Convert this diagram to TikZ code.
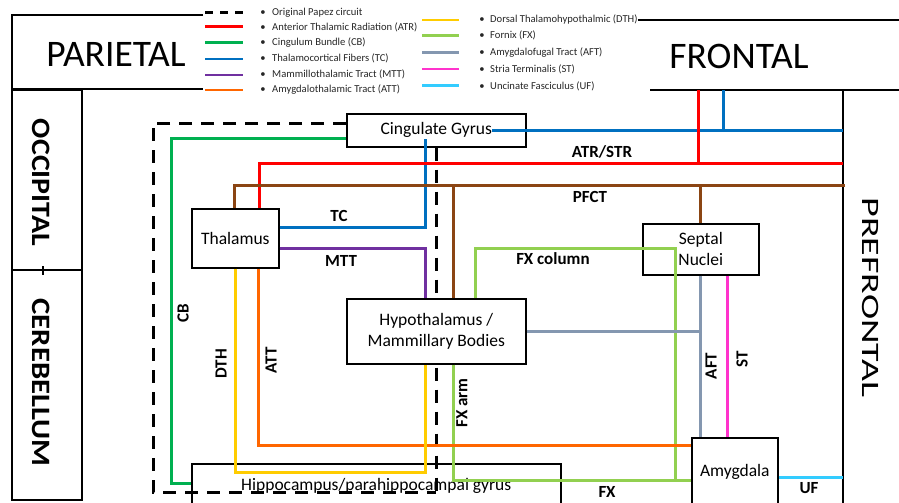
\documentclass[tikz,border=0pt]{standalone}
\usepackage{fontspec}
\setmainfont{Carlito}
\usepackage{graphicx}
\usetikzlibrary{backgrounds}
\definecolor{cATR}{HTML}{FF0000}
\definecolor{cCB}{HTML}{00B050}
\definecolor{cTC}{HTML}{0070C0}
\definecolor{cMTT}{HTML}{7030A0}
\definecolor{cATT}{HTML}{FF6600}
\definecolor{cDTH}{HTML}{FFCC00}
\definecolor{cFX}{HTML}{92D050}
\definecolor{cAFT}{HTML}{8497B0}
\definecolor{cST}{HTML}{FF33CC}
\definecolor{cUF}{HTML}{33CCFF}
\definecolor{cPF}{HTML}{8B4513}
\begin{document}
\begin{tikzpicture}[x=1pt,y=-1pt,
  box/.style={draw=black,line width=1.6pt,fill=white,inner sep=0pt,anchor=north west,align=center,font=\fontsize{17.5}{21}\selectfont},
  fib/.style={line width=3pt},
  lbl/.style={font=\bfseries\fontsize{17}{20}\selectfont,inner sep=0pt},
  legtxt/.style={font=\fontsize{10.6}{12}\selectfont,text=black!85,inner sep=0pt,anchor=west,text height=7.2pt,text depth=2.2pt},
  legbul/.style={font=\fontsize{10.6}{12}\selectfont,text=black!85,inner sep=0pt,text height=7.2pt,text depth=2.2pt},
  swatch/.style={line width=2.6pt},
  region/.style={line width=2pt},
  papez/.style={line width=3pt,dash pattern=on 13pt off 9pt},
]
\useasboundingbox (0,0) rectangle (899,503);

% ---------- boxes ----------
\node[box,minimum width=179pt,minimum height=33pt] (cing) at (346,113) {Cingulate Gyrus};
\node[box,minimum width=87pt,minimum height=59pt] (thal) at (191,208) {Thalamus};
\node[box,minimum width=179pt,minimum height=65pt] (hypo) at (346,298) {Hypothalamus /\\Mammillary Bodies};
\node[box,minimum width=116pt,minimum height=51pt] (sept) at (642,223) {Septal\\Nuclei};
\node[box,minimum width=86pt,minimum height=68pt] (amyg) at (691,437) {Amygdala};
\node[box,fill=none,minimum width=369pt,minimum height=44pt] (hipp) at (191,463) {Hippocampus/parahippocampal gyrus};

% ---------- Papez circuit ----------
\begin{pgfonlayer}{background}
\draw[papez] (cing.west |- 0,123) -- (153,123) -- (153,492) -- (436,492);
\draw[papez] (436,0 |- cing.south) -- (436,492);
\end{pgfonlayer}

% ---------- legend ----------
\draw[swatch,dash pattern=on 8pt off 7pt] (205,12.7) -- (243,12.7);
\draw[swatch,cATR] (205,26.7) -- (243,26.7);
\draw[swatch,cCB] (205,42.3) -- (243,42.3);
\draw[swatch,cTC] (205,59) -- (243,59);
\draw[swatch,cMTT] (205,75) -- (243,75);
\draw[swatch,cATT] (205,90) -- (243,90);
\draw[swatch,cDTH] (422,20) -- (459,20);
\draw[swatch,cFX] (422,35.7) -- (459,35.7);
\draw[swatch,cAFT] (422,52.3) -- (459,52.3);
\draw[swatch,cST] (422,69) -- (459,69);
\draw[swatch,cUF] (422,85.7) -- (459,85.7);
\foreach \yy/\nm in {12.7/a,27.7/b,43.3/c,59.3/d,75/e,90/f}{\node[legbul] (bl\nm) at (263,\yy) {•};}
\foreach \yy/\nm in {20/a,35.7/b,53/c,70/d,86.7/e}{\node[legbul] (br\nm) at (482,\yy) {•};}
\node[legtxt] (la) at (272,12.7) {Original Papez circuit};
\node[legtxt] (lb) at (272,27.7) {Anterior Thalamic Radiation (ATR)};
\node[legtxt] (lc) at (272,43.3) {Cingulum Bundle (CB)};
\node[legtxt] (ld) at (272,59.3) {Thalamocortical Fibers (TC)};
\node[legtxt] (le) at (272,75) {Mammillothalamic Tract (MTT)};
\node[legtxt] (lf) at (272,90) {Amygdalothalamic Tract (ATT)};
\node[legtxt] (dthtxt) at (490,20) {Dorsal Thalamohypothalmic (DTH)};
\node[legtxt] (rb) at (490,35.7) {Fornix (FX)};
\node[legtxt] (rc) at (490,53) {Amygdalofugal Tract (AFT)};
\node[legtxt] (rd) at (490,70) {Stria Terminalis (ST)};
\node[legtxt] (re) at (490,86.7) {Uncinate Fasciculus (UF)};

% ---------- regions ----------
\draw[region,line width=1.8pt] (203,15) -- (12,15) -- (12,89) -- (203,89);
\draw[region,line width=2.2pt] (12,90) rectangle (82,500);
\draw[region,line width=2.2pt] (12,270) -- (82,270);
\draw[line width=1.5pt] (43,266) -- (43,275);
\draw[region] (dthtxt.east) -- (899,20);
\draw[region] (650,90) -- (899,90);
\draw[region] (843,90) -- (843,510);
\node[inner sep=0pt,font=\fontsize{37.5}{40}\selectfont] (par) at (116,54) {PARIETAL};
\node[inner sep=0pt,font=\fontsize{37.5}{40}\selectfont] (fro) at (739,56.5) {FRONTAL};
\node[inner sep=0pt,font=\bfseries\fontsize{26.5}{30}\selectfont,rotate=-90] (occ) at (41.5,182.5) {\scalebox{1.13}[1]{OCCIPITAL}};
\node[inner sep=0pt,font=\bfseries\fontsize{26.5}{30}\selectfont,rotate=-90] (cer) at (41.5,382.5) {\scalebox{1.16}[1]{CEREBELLUM}};
\node[inner sep=0pt,font=\fontsize{25}{30}\selectfont,rotate=-90] (pre) at (871,297.5) {\scalebox{1.52}[1]{PREFRONTAL}};

% ---------- fibres ----------
\draw[fib,cCB] (cing.west |- 0,138) -| (171,483) -- (hipp.west |- 0,483);
\draw[fib,cTC] (thal.east |- 0,227) -| (425,139);
\draw[fib,cTC] (492,130) -- (843,130);
\draw[fib,cTC] (723,90) -- (723,130);
\draw[fib,cATR] (698,90) -- (698,163);
\draw[fib,cATR] (843,163) -| (259,0 |- thal.north);
\draw[fib,cPF] (845,185) -| (234,0 |- thal.north);
\draw[fib,cPF] (453,185) -- (453,0 |- hypo.north);
\draw[fib,cPF] (sept.north |- 0,185) -- (sept.north);
\draw[fib,cMTT] (thal.east |- 0,248) -| (425,0 |- hypo.north);
\draw[fib,cFX] (475,0 |- hypo.north) |- (675,248) -- (675,480);
\draw[fib,cFX] (453,0 |- hypo.south) |- (amyg.west |- 0,480);
\draw[fib,cAFT] (hypo.east |- 0,331) -- (700,331);
\draw[fib,cAFT] (sept.south) -- (amyg.north -| sept.south);
\draw[fib,cST] (727,0 |- sept.south) -- (727,0 |- amyg.north);
\draw[fib,cATT] (258,0 |- thal.south) |- (amyg.west |- 0,445);
\draw[fib,cDTH] (235,0 |- thal.south) |- (425,472) -- (425,0 |- hypo.south);
\draw[fib,cUF] (amyg.east |- 0,477) -- (843,477);

% ---------- labels ----------
\node[lbl] (tTC) at (339,216) {TC};
\node[lbl] (tMTT) at (341,261) {MTT};
\node[lbl] (tATR) at (602,152) {ATR/STR};
\node[lbl] (tPF) at (590,197) {PFCT};
\node[lbl] (tFXc) at (553,259) {FX column};
\node[lbl,rotate=90] (tCB) at (183,313) {CB};
\node[lbl,rotate=90] (tDTH) at (221,364) {DTH};
\node[lbl,rotate=90] (tATT) at (271,360) {ATT};
\node[lbl,rotate=90] (tFXa) at (462,403) {FX arm};
\node[lbl,rotate=90] (tAFT) at (711,366) {AFT};
\node[lbl,rotate=90] (tST) at (742,359) {ST};
\node[lbl] (tFX) at (607,492) {FX};
\node[lbl] (tUF) at (809,488) {UF};
\end{tikzpicture}
\end{document}
